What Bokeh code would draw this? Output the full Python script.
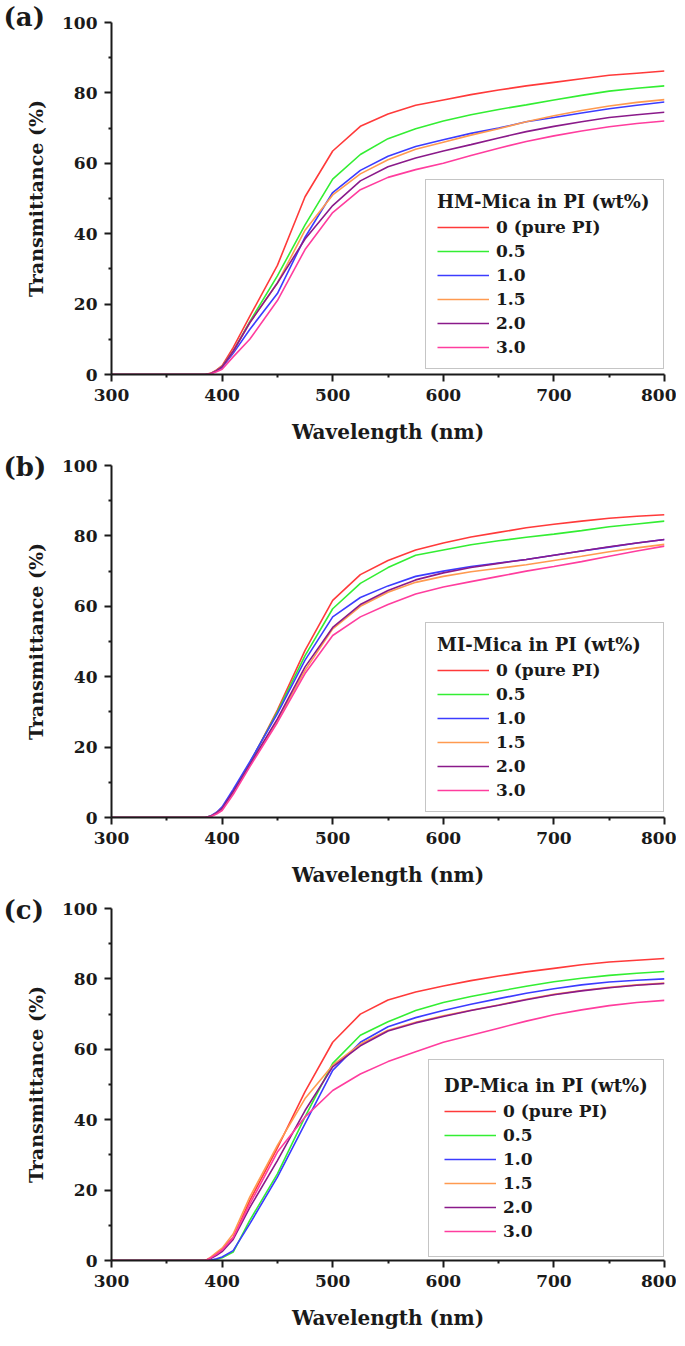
from bokeh.plotting import figure
from bokeh.layouts import column
from bokeh.models import FixedTicker, Legend, LegendItem
from bokeh.embed import file_html
from bokeh.resources import INLINE

# ---------------- data ----------------
wavelength = [300, 385, 390, 395, 400, 410, 425, 450, 475, 500, 525, 550,
              575, 600, 625, 650, 675, 700, 725, 750, 775, 800]

series_labels = ["0 (pure PI)", "0.5", "1.0", "1.5", "2.0", "3.0"]
series_colors = ["#ff3a3a", "#33ee33", "#3c3cff", "#ff9a50", "#8a1a8a", "#ff3d9e"]

# (a) HM-Mica
hm_0   = [0, 0, 0.4, 1.3, 2.5, 7.6, 16.5, 31, 50.5, 63.5, 70.5, 74, 76.5, 78, 79.5, 80.8, 82, 83, 84, 85, 85.6, 86.2]
hm_05  = [0, 0, 0.3, 1.1, 2.3, 6.6, 15, 28, 42.5, 55.5, 62.5, 67, 69.8, 72, 73.8, 75.3, 76.6, 78, 79.3, 80.5, 81.3, 82]
hm_10  = [0, 0, 0.3, 1.0, 2.0, 6.0, 12.8, 23, 39, 51.7, 58, 62, 64.8, 66.7, 68.5, 70, 71.8, 73, 74.3, 75.5, 76.5, 77.4]
hm_15  = [0, 0, 0.3, 1.1, 2.3, 6.6, 14.7, 26, 41, 51, 57, 61, 64, 66, 68, 69.8, 71.8, 73.5, 75, 76.3, 77.3, 78.1]
hm_20  = [0, 0, 0.3, 1.1, 2.2, 6.6, 14.7, 26, 38.5, 48, 55, 59, 61.5, 63.5, 65.3, 67.2, 69, 70.5, 71.8, 73, 73.8, 74.5]
hm_30  = [0, 0, 0.2, 0.8, 1.5, 5, 10, 21, 35.5, 46, 52.5, 56, 58.2, 60, 62.2, 64.3, 66.2, 67.8, 69.2, 70.4, 71.3, 72]

# (b) MI-Mica
mi_0   = [0, 0, 0.4, 1.3, 2.5, 7.5, 15.3, 30.5, 47.5, 61.7, 69, 73, 76, 78, 79.7, 81, 82.3, 83.3, 84.2, 85, 85.6, 86]
mi_05  = [0, 0, 0.4, 1.3, 2.5, 7.5, 15.5, 30, 46, 59.3, 66.5, 71, 74.5, 76, 77.5, 78.6, 79.6, 80.5, 81.5, 82.6, 83.4, 84.2]
mi_10  = [0, 0, 0.5, 1.5, 3, 8, 15.8, 29.5, 44.7, 57, 62.5, 65.8, 68.5, 70, 71.3, 72.3, 73.3, 74.5, 75.7, 76.8, 78, 79]
mi_15  = [0, 0, 0.4, 1.3, 2.5, 7, 14.8, 27.6, 41.8, 53.6, 60, 64, 66.8, 68.5, 69.8, 70.8, 71.8, 73, 74.2, 75.5, 76.6, 77.6]
mi_20  = [0, 0, 0.4, 1.3, 2.6, 7.3, 15, 28, 42.8, 54, 60.5, 64.5, 67.5, 69.5, 71, 72.2, 73.3, 74.5, 75.7, 76.9, 78, 79]
mi_30  = [0, 0, 0.3, 1, 2, 6.5, 14.4, 27, 40.9, 51.7, 57, 60.5, 63.5, 65.5, 67, 68.5, 70, 71.3, 72.7, 74.2, 75.7, 77.1]

# (c) DP-Mica
dp_0   = [0, 0, 0.8, 2, 3.3, 6.5, 17, 32, 48, 62, 70, 74, 76.3, 78, 79.5, 80.8, 82, 83, 84, 84.8, 85.3, 85.8]
dp_05  = [0, 0, 0, 0.3, 0.8, 2.4, 11.4, 24.6, 40.8, 56, 64, 67.8, 71, 73.3, 75, 76.5, 77.9, 79.2, 80.2, 81, 81.6, 82.1]
dp_10  = [0, 0, 0.1, 0.5, 1, 2.8, 10.4, 23.7, 38.9, 54, 62, 66.4, 69, 71, 72.8, 74.4, 75.9, 77.2, 78.3, 79.1, 79.6, 80]
dp_15  = [0, 0, 1, 2.3, 3.5, 7.5, 18, 32.7, 46, 55.5, 61.5, 65.4, 67.7, 69.5, 71.1, 72.6, 74.2, 75.6, 76.7, 77.6, 78.3, 78.8]
dp_20  = [0, 0, 0.6, 1.5, 2.5, 6, 15, 28.4, 42.6, 55, 61, 65.2, 67.5, 69.3, 71, 72.5, 74.1, 75.5, 76.6, 77.5, 78.2, 78.7]
dp_30  = [0, 0, 0.8, 1.8, 3, 6.5, 16, 30.8, 40.8, 48.3, 53, 56.5, 59.3, 62, 64, 66, 68, 69.8, 71.2, 72.4, 73.3, 73.9]

x_major = [300, 400, 500, 600, 700, 800]
x_minor = [350, 450, 550, 650, 750]
y_major = [0, 20, 40, 60, 80, 100]
y_minor = [10, 30, 50, 70, 90]

FONT = "DejaVu Serif"
INK = "#1a1a1a"


def make_panel(tag, legend_title, ys, legend_x, legend_y, top, pad, lab_w, tag_standoff):
    p = figure(width=111 + 553 + 12, height=top + 352 + 76,
               x_range=(300, 800), y_range=(0, 100),
               output_backend="svg", toolbar_location=None,
               min_border_left=111, min_border_right=12,
               min_border_top=top, min_border_bottom=76,
               background_fill_color="white", border_fill_color="white")
    p.outline_line_color = None
    p.xgrid.visible = False
    p.ygrid.visible = False

    # panel tag "(a)" etc. as the figure title, pushed to the left of the frame
    p.title.text = tag
    p.title.align = "left"
    p.title.offset = -108
    p.title.text_font = FONT
    p.title.text_font_style = "bold"
    p.title.text_font_size = "26px"
    p.title.text_color = INK
    p.title.text_line_height = 1.0
    try:
        p.title.standoff = tag_standoff
    except Exception:
        p.title.standoff = 0

    for ax, maj, mnr, lab in ((p.xaxis[0], x_major, x_minor, "Wavelength (nm)"),
                              (p.yaxis[0], y_major, y_minor, "Transmittance (%)")):
        ax.ticker = FixedTicker(ticks=maj, minor_ticks=mnr)
        ax.axis_label = lab
        ax.axis_line_width = 2
        ax.axis_line_color = INK
        ax.major_tick_line_width = 2
        ax.major_tick_line_color = INK
        ax.minor_tick_line_width = 2
        ax.minor_tick_line_color = INK
        ax.major_tick_in = 0
        ax.major_tick_out = 7
        ax.minor_tick_in = 0
        ax.minor_tick_out = 3
        ax.major_label_text_font = FONT
        ax.major_label_text_font_style = "bold"
        ax.major_label_text_font_size = "17px"
        ax.major_label_text_color = INK
        ax.axis_label_text_font = FONT
        ax.axis_label_text_font_style = "bold"
        ax.axis_label_text_color = INK

    p.xaxis[0].axis_label_text_font_size = "20px"
    p.xaxis[0].major_label_standoff = 7
    p.xaxis[0].axis_label_standoff = 16
    p.yaxis[0].axis_label_text_font_size = "19px"
    p.yaxis[0].major_label_standoff = 7
    p.yaxis[0].axis_label_standoff = 12

    items = []
    for y, c, lab in zip(ys, series_colors, series_labels):
        r = p.line(wavelength, y, line_color=c, line_width=1.6)
        items.append(LegendItem(label=lab, renderers=[r]))

    leg = Legend(items=items, location=(legend_x, legend_y),
                 title=legend_title,
                 title_text_font=FONT, title_text_font_style="bold",
                 title_text_font_size="18px", title_text_color=INK,
                 title_standoff=5,
                 label_text_font=FONT, label_text_font_style="bold",
                 label_text_font_size="17px", label_text_color=INK,
                 glyph_width=52, glyph_height=20, label_height=20,
                 label_width=lab_w, label_standoff=7, spacing=4,
                 padding=pad, margin=0,
                 border_line_color="#8c8c8c", border_line_width=1.5,
                 background_fill_color="white", background_fill_alpha=1.0)
    p.add_layout(leg, "center")
    return p


pa = make_panel("(a)", "HM-Mica in PI (wt%)", [hm_0, hm_05, hm_10, hm_15, hm_20, hm_30], 314, 5, 22, 11, 156, -19)
pb = make_panel("(b)", "MI-Mica in PI (wt%)", [mi_0, mi_05, mi_10, mi_15, mi_20, mi_30], 314, 5, 15, 11, 156, -32)
pc = make_panel("(c)", "DP-Mica in PI (wt%)", [dp_0, dp_05, dp_10, dp_15, dp_20, dp_30], 317, 3, 15, 15, 145, -32)

layout = column(pa, pb, pc, spacing=0)
open("out.html", "w").write(file_html(layout, INLINE))
